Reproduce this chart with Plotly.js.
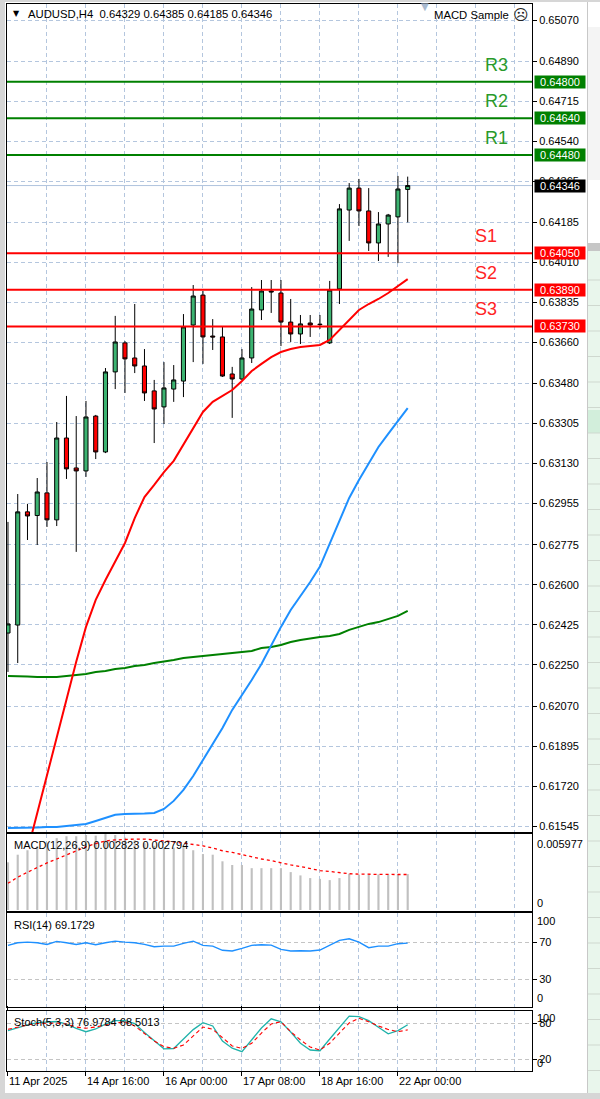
<!DOCTYPE html>
<html>
<head>
<meta charset="utf-8">
<script src="https://cdn.plot.ly/plotly-3.0.1.min.js"></script>
<style>
html,body{margin:0;padding:0;background:#fff;overflow:hidden;}
#chart{width:600px;height:1099px;}
</style>
</head>
<body>
<div id="chart"></div>
<script>
// ---------------- DATA ----------------
const symbolTitle = 'AUDUSD,H4';
const expertName = 'MACD Sample';
const tickBars   = [0, 8, 16, 24, 32, 40];
const tickLabels = ['11 Apr 2025', '14 Apr 16:00', '16 Apr 00:00', '17 Apr 08:00', '18 Apr 16:00', '22 Apr 00:00'];

const open  = [0.62389,0.62424,0.62919,0.62903,0.63002,0.62884,0.63242,0.63111,0.63098,0.63338,0.63181,0.63531,0.63658,0.63592,0.63557,0.63448,0.63378,0.63456,0.63491,0.63736,0.63867,0.63688,0.63684,0.63522,0.63500,0.63592,0.63802,0.63885,0.63876,0.63749,0.63697,0.63745,0.63740,0.63658,0.63894,0.64239,0.64335,0.64235,0.64095,0.64178,0.64209,0.64329];
const high  = [0.62875,0.62997,0.62954,0.63067,0.63137,0.63312,0.63426,0.63338,0.63404,0.63343,0.63548,0.63776,0.63666,0.63828,0.63631,0.63496,0.63574,0.63561,0.63784,0.63911,0.63885,0.63762,0.63728,0.63553,0.63631,0.63902,0.63933,0.63933,0.63933,0.63850,0.63780,0.63780,0.63780,0.63929,0.64265,0.64357,0.64375,0.64335,0.64230,0.64222,0.64388,0.64385];
const low   = [0.62219,0.62258,0.62796,0.62774,0.62853,0.62857,0.63063,0.62744,0.63072,0.63150,0.63176,0.63456,0.63439,0.63526,0.63404,0.63220,0.63303,0.63400,0.63421,0.63574,0.63566,0.63627,0.63509,0.63330,0.63496,0.63570,0.63758,0.63789,0.63644,0.63662,0.63653,0.63684,0.63719,0.63653,0.63828,0.64104,0.64169,0.64060,0.64016,0.64034,0.64007,0.64185];
const close = [0.62429,0.62919,0.62901,0.63006,0.62884,0.63242,0.63107,0.63098,0.63334,0.63181,0.63531,0.63662,0.63588,0.63557,0.63439,0.63369,0.63461,0.63496,0.63728,0.63863,0.63684,0.63684,0.63513,0.63500,0.63592,0.63806,0.63885,0.63881,0.63749,0.63697,0.63741,0.63736,0.63738,0.63889,0.64244,0.64335,0.64235,0.64095,0.64178,0.64217,0.64331,0.64346];

const maRed   = [null,null,0.61436,0.61602,0.61768,0.61935,0.62105,0.62263,0.62416,0.62534,0.62621,0.62700,0.62783,0.62892,0.62984,0.63037,0.63093,0.63142,0.63212,0.63286,0.63356,0.63400,0.63426,0.63452,0.63491,0.63535,0.63566,0.63596,0.63618,0.63631,0.63640,0.63644,0.63649,0.63671,0.63714,0.63758,0.63802,0.63828,0.63850,0.63876,0.63907,0.63937];
const maBlue  = [0.61537,0.61537,0.61537,0.61539,0.61541,0.61541,0.61545,0.61550,0.61554,0.61567,0.61580,0.61594,0.61598,0.61598,0.61600,0.61602,0.61620,0.61655,0.61703,0.61764,0.61834,0.61900,0.61974,0.62053,0.62118,0.62184,0.62254,0.62337,0.62416,0.62490,0.62551,0.62612,0.62680,0.62780,0.62884,0.62980,0.63058,0.63128,0.63203,0.63260,0.63316,0.63373];
const maGreen = [0.62201,0.62201,0.62199,0.62197,0.62197,0.62197,0.62201,0.62206,0.62210,0.62219,0.62223,0.62232,0.62236,0.62245,0.62249,0.62258,0.62263,0.62271,0.62280,0.62284,0.62289,0.62293,0.62298,0.62302,0.62306,0.62311,0.62324,0.62328,0.62337,0.62350,0.62359,0.62367,0.62372,0.62376,0.62385,0.62403,0.62416,0.62429,0.62437,0.62451,0.62464,0.62486];

const levelNames  = ['R3','R2','R1','S1','S2','S3'];
const levelValues = [0.64800,0.64640,0.64480,0.64050,0.63890,0.63730];

const priceTicks = [0.65070,0.64890,0.64715,0.64540,0.64365,0.64185,0.64010,0.63835,0.63660,0.63480,0.63305,0.63130,0.62955,0.62775,0.62600,0.62425,0.62250,0.62070,0.61895,0.61720,0.61545];

const macdHist   = [0.00375,0.00435,0.00470,0.00500,0.00530,0.00565,0.00580,0.00580,0.00590,0.00585,0.00597,0.00590,0.00570,0.00550,0.00525,0.00505,0.00495,0.00490,0.00495,0.00470,0.00440,0.00435,0.00383,0.00354,0.00354,0.00329,0.00329,0.00329,0.00329,0.00298,0.00272,0.00251,0.00245,0.00235,0.00251,0.00285,0.00278,0.00278,0.00280,0.00280,0.00282,0.002823];
const macdSignal = [0.00210,0.00258,0.00297,0.00336,0.00370,0.00401,0.00435,0.00466,0.00497,0.00522,0.00543,0.00551,0.00556,0.00558,0.00558,0.00553,0.00543,0.00536,0.00525,0.00518,0.00505,0.00487,0.00466,0.00453,0.00435,0.00419,0.00401,0.00388,0.00370,0.00355,0.00342,0.00323,0.00310,0.00303,0.00293,0.00285,0.00282,0.00280,0.00279,0.00279,0.00279,0.002794];
const macdScaleMax = 0.005977;

const rsi = [66.8,69.6,70.3,69.6,67.8,71.1,69.6,67.8,69.6,67.5,69.6,71.4,70.3,69.6,67.8,65.3,66.0,66.0,68.9,71.4,66.8,66.0,61.4,60.6,63.5,66.8,67.5,67.1,62.4,60.6,60.9,60.6,61.7,66.8,72.2,74.0,70.3,64.2,66.0,66.0,68.6,69.1729];
const rsiLevels = [30, 70];

const stochK = [67.2,72.5,77.0,80.5,82.0,82.5,78.0,71.0,65.5,70.0,78.0,84.0,84.0,79.0,64.0,50.0,37.0,37.5,53.0,69.0,80.5,75.0,50.0,38.0,32.2,51.7,71.7,87.0,82.0,65.0,46.2,35.0,33.8,53.3,71.7,91.5,90.5,84.0,73.0,62.0,67.2,76.9784];
const stochD = [69.5,73.3,76.7,79.2,80.0,80.0,78.3,73.3,71.2,73.3,76.7,80.0,82.2,75.0,62.8,50.0,40.5,37.8,43.3,58.3,73.3,69.5,55.0,41.7,37.8,46.2,63.3,78.3,82.2,65.5,51.7,40.0,35.0,46.2,63.3,80.0,87.8,82.2,75.0,69.2,65.5,68.5013];
const stochLevels = [20, 80];

// ---------------- LAYOUT GEOMETRY ----------------
const W = 600, H = 1099;
const L = 7, R = 532, T = 4, B = 1071;
const fx = px => (px - L) / (R - L);
const fy = py => (B - py) / (B - T);
const FONT = 'Liberation Sans, Arial, sans-serif';
const gridColor = '#b4c6de';
const gridDash = '4px,3px';
const levelGrid = '#c4c4c4';
const bars = open.map((_, i) => i);
const last = a => a[a.length - 1];

const traces = [
  {type:'candlestick', x:bars, open:open, high:high, low:low, close:close, xaxis:'x', yaxis:'y',
   line:{width:1},
   increasing:{line:{color:'#000', width:1}, fillcolor:'#3cb371'},
   decreasing:{line:{color:'#000', width:1}, fillcolor:'#ff0000'},
   whiskerwidth:0, hoverinfo:'skip'},
  {type:'scatter', mode:'lines', x:bars, y:maGreen, line:{color:'#008000', width:2}, xaxis:'x', yaxis:'y', hoverinfo:'skip'},
  {type:'scatter', mode:'lines', x:bars, y:maBlue, line:{color:'#1e90ff', width:2}, xaxis:'x', yaxis:'y', hoverinfo:'skip'},
  {type:'scatter', mode:'lines', x:bars, y:maRed, line:{color:'#ff0000', width:2}, xaxis:'x', yaxis:'y', hoverinfo:'skip'},
  {type:'bar', x:bars, y:macdHist, width:0.22, marker:{color:'#c0c0c0', line:{width:0}}, xaxis:'x', yaxis:'y2', hoverinfo:'skip'},
  {type:'scatter', mode:'lines', x:bars, y:macdSignal, line:{color:'#ff0000', width:1.3, dash:'3px,3px'}, xaxis:'x', yaxis:'y2', hoverinfo:'skip'},
  {type:'scatter', mode:'lines', x:bars, y:rsi, line:{color:'#1e90ff', width:1.4}, xaxis:'x', yaxis:'y3', hoverinfo:'skip'},
  {type:'scatter', mode:'lines', x:bars, y:stochK, line:{color:'#20b2aa', width:1.3}, xaxis:'x', yaxis:'y4', hoverinfo:'skip'},
  {type:'scatter', mode:'lines', x:bars, y:stochD, line:{color:'#ff0000', width:1.1, dash:'4px,3px'}, xaxis:'x', yaxis:'y4', hoverinfo:'skip'}
];

const tickFont = {family:FONT, size:11, color:'#000'};
const baseY = {side:'right', anchor:'x', showline:true, mirror:true, linecolor:'#000', linewidth:1,
  zeroline:false, fixedrange:true, tickfont:tickFont, ticks:'outside', ticklen:4, tickcolor:'#000', automargin:false};

const shapes = [];
const ann = [];
const txt = (x, y, text, opts) => Object.assign({xref:'paper', yref:'paper', x:x, y:y, text:text, showarrow:false,
  xanchor:'left', yanchor:'middle', font:{family:FONT, size:11, color:'#000'}}, opts || {});

// window decoration
shapes.push({type:'rect', xref:'paper', yref:'paper', x0:fx(0), x1:fx(5), y0:fy(H), y1:fy(0), fillcolor:'#d6d6d6', line:{width:0}, layer:'below'});
shapes.push({type:'rect', xref:'paper', yref:'paper', x0:fx(0), x1:fx(W), y0:fy(H), y1:fy(1093), fillcolor:'#d6d6d6', line:{width:0}, layer:'below'});
shapes.push({type:'rect', xref:'paper', yref:'paper', x0:fx(0), x1:fx(W), y0:fy(2), y1:fy(0), fillcolor:'#d6d6d6', line:{width:0}, layer:'below'});
shapes.push({type:'line', xref:'paper', yref:'paper', x0:fx(587.5), x1:fx(587.5), y0:fy(1093), y1:fy(2), line:{color:'#c8c8c8', width:1}, layer:'below'});
shapes.push({type:'rect', xref:'paper', yref:'paper', x0:fx(588), x1:fx(W), y0:fy(180), y1:fy(27), fillcolor:'#f4f4f4', line:{width:0}, layer:'below'});
shapes.push({type:'rect', xref:'paper', yref:'paper', x0:fx(588), x1:fx(W), y0:fy(251), y1:fy(243), fillcolor:'#c6c6c6', line:{width:0}, layer:'below'});
shapes.push({type:'rect', xref:'paper', yref:'paper', x0:fx(588), x1:fx(W), y0:fy(1093), y1:fy(251), fillcolor:'#e9f6ec', line:{width:0}, layer:'below'});
shapes.push({type:'rect', xref:'paper', yref:'paper', x0:fx(588), x1:fx(W), y0:fy(433), y1:fy(410), fillcolor:'#d2eedb', line:{width:0}, layer:'below'});
for (let py = 280; py < 1090; py += 25.5) {
  shapes.push({type:'line', xref:'paper', yref:'paper', x0:fx(588), x1:fx(W), y0:fy(py), y1:fy(py), line:{color:'#cfd8cf', width:1}, layer:'below'});
}

// current price line
shapes.push({type:'line', xref:'paper', yref:'y', x0:0, x1:1, y0:last(close), y1:last(close), line:{color:'#b0c4de', width:1}, layer:'below'});

// support / resistance levels
levelNames.forEach((name, k) => {
  const v = levelValues[k];
  const isR = name[0] === 'R';
  const lineCol = isR ? '#008000' : '#ff0000';
  shapes.push({type:'line', xref:'paper', yref:'y', x0:0, x1:1, y0:v, y1:v, line:{color:lineCol, width:2}});
  ann.push({xref:'paper', yref:'y', x: isR ? fx(483) : fx(473), y:v, yanchor:'bottom', xanchor:'left', yshift:5,
    text:name, showarrow:false, font:{family:FONT, size:18, color: isR ? '#2a9a2a' : '#ff2424'}});
  ann.push({xref:'paper', yref:'y', x:1, y:v, xanchor:'left', yanchor:'middle', xshift:2, text:v.toFixed(5),
    showarrow:false, bgcolor:lineCol, width:50, height:12, borderpad:0, align:'center',
    font:{family:FONT, size:11, color:'#fff'}});
});
// current price box
ann.push({xref:'paper', yref:'y', x:1, y:last(close), xanchor:'left', yanchor:'middle', xshift:2, text:last(close).toFixed(5),
  showarrow:false, bgcolor:'#000', width:50, height:12, borderpad:0, align:'center', font:{family:FONT, size:11, color:'#fff'}});

// header texts
ann.push(txt(fx(11), fy(14), '\u25BC', {font:{family:'DejaVu Sans', size:8, color:'#000'}}));
ann.push(txt(fx(26), fy(14), symbolTitle + '\u00a0\u00a0' + [last(open), last(high), last(low), last(close)].map(v => v.toFixed(5)).join(' '),
  {font:{family:FONT, size:11.3, color:'#000'}}));
ann.push(txt(fx(511), fy(15), expertName, {xanchor:'right', font:{family:FONT, size:11.3, color:'#000'}}));
ann.push(txt(fx(511), fy(15), '\u2639', {xanchor:'left', font:{family:'DejaVu Sans', size:15, color:'#222'}}));
ann.push(txt(fx(425), fy(7), '\u25BC', {xanchor:'center', font:{family:'DejaVu Sans', size:10, color:'#a9bad0'}}));

// sub-window captions
ann.push(txt(fx(12), fy(845), 'MACD(12,26,9) ' + last(macdHist).toFixed(6) + ' ' + last(macdSignal).toFixed(6)));
ann.push(txt(fx(12), fy(925), 'RSI(14) ' + last(rsi).toFixed(4)));
ann.push(txt(fx(12), fy(1022), 'Stoch(5,3,3) ' + last(stochK).toFixed(4) + ' ' + last(stochD).toFixed(4)));

// sub-window edge scale labels (clamped inside the window, like the terminal does)
const edge = (yref, v, label, shift) => ({xref:'paper', yref:yref, x:1, y:v, xanchor:'left', yanchor:'middle', xshift:3, yshift:shift,
  text:label, showarrow:false, font:{family:FONT, size:11, color:'#000'}});
ann.push(edge('y2', macdScaleMax, macdScaleMax.toFixed(6), -10));
ann.push(edge('y2', 0, '0', 7));
ann.push(edge('y3', 100, '100', -6));
ann.push(edge('y3', 0, '0', 9));
ann.push(edge('y4', 100, '100', -7));
ann.push(edge('y4', 0, '0', 8));

const layout = {
  width:W, height:H,
  margin:{l:L, r:W - R, t:T, b:H - B, pad:0},
  paper_bgcolor:'#ffffff', plot_bgcolor:'#ffffff',
  showlegend:false, hovermode:false, dragmode:false,
  boxgap:0.4,
  font:{family:FONT, size:11, color:'#000'},
  xaxis:{domain:[0,1], range:[-0.1, 53.75], anchor:'y4', type:'linear',
    tickmode:'array', tickvals:tickBars, ticktext:tickLabels, ticklabelposition:'outside right',
    ticks:'outside', ticklen:4, tickcolor:'#000', tickfont:tickFont,
    showline:true, mirror:'all', linecolor:'#000', linewidth:1,
    showgrid:true, gridcolor:gridColor, griddash:gridDash, gridwidth:1, zeroline:false,
    minor:{tickmode:'linear', tick0:0, dtick:4, showgrid:true, gridcolor:gridColor, griddash:gridDash, gridwidth:1, ticks:''},
    rangeslider:{visible:false}, fixedrange:true, automargin:false},
  yaxis: Object.assign({}, baseY, {domain:[fy(832), 1], range:[0.61519, 0.65140], tickmode:'array', tickvals:priceTicks,
    tickformat:'.5f', showgrid:true, gridcolor:gridColor, griddash:gridDash}),
  yaxis2: Object.assign({}, baseY, {domain:[fy(911), fy(834)], range:[-0.0000786, macdScaleMax], showticklabels:false, ticks:'', showgrid:false}),
  yaxis3: Object.assign({}, baseY, {domain:[fy(1007), fy(913)], range:[-0.3, 102], tickmode:'array', tickvals:rsiLevels,
    ticktext:rsiLevels.map(String), showgrid:true, gridcolor:levelGrid, griddash:gridDash}),
  yaxis4: Object.assign({}, baseY, {domain:[0, fy(1011)], range:[0, 100], tickmode:'array', tickvals:stochLevels,
    ticktext:stochLevels.map(String), showgrid:true, gridcolor:levelGrid, griddash:gridDash}),
  shapes:shapes,
  annotations:ann
};

Plotly.newPlot('chart', traces, layout, {staticPlot:true, displayModeBar:false, responsive:false});
</script>
</body>
</html>
